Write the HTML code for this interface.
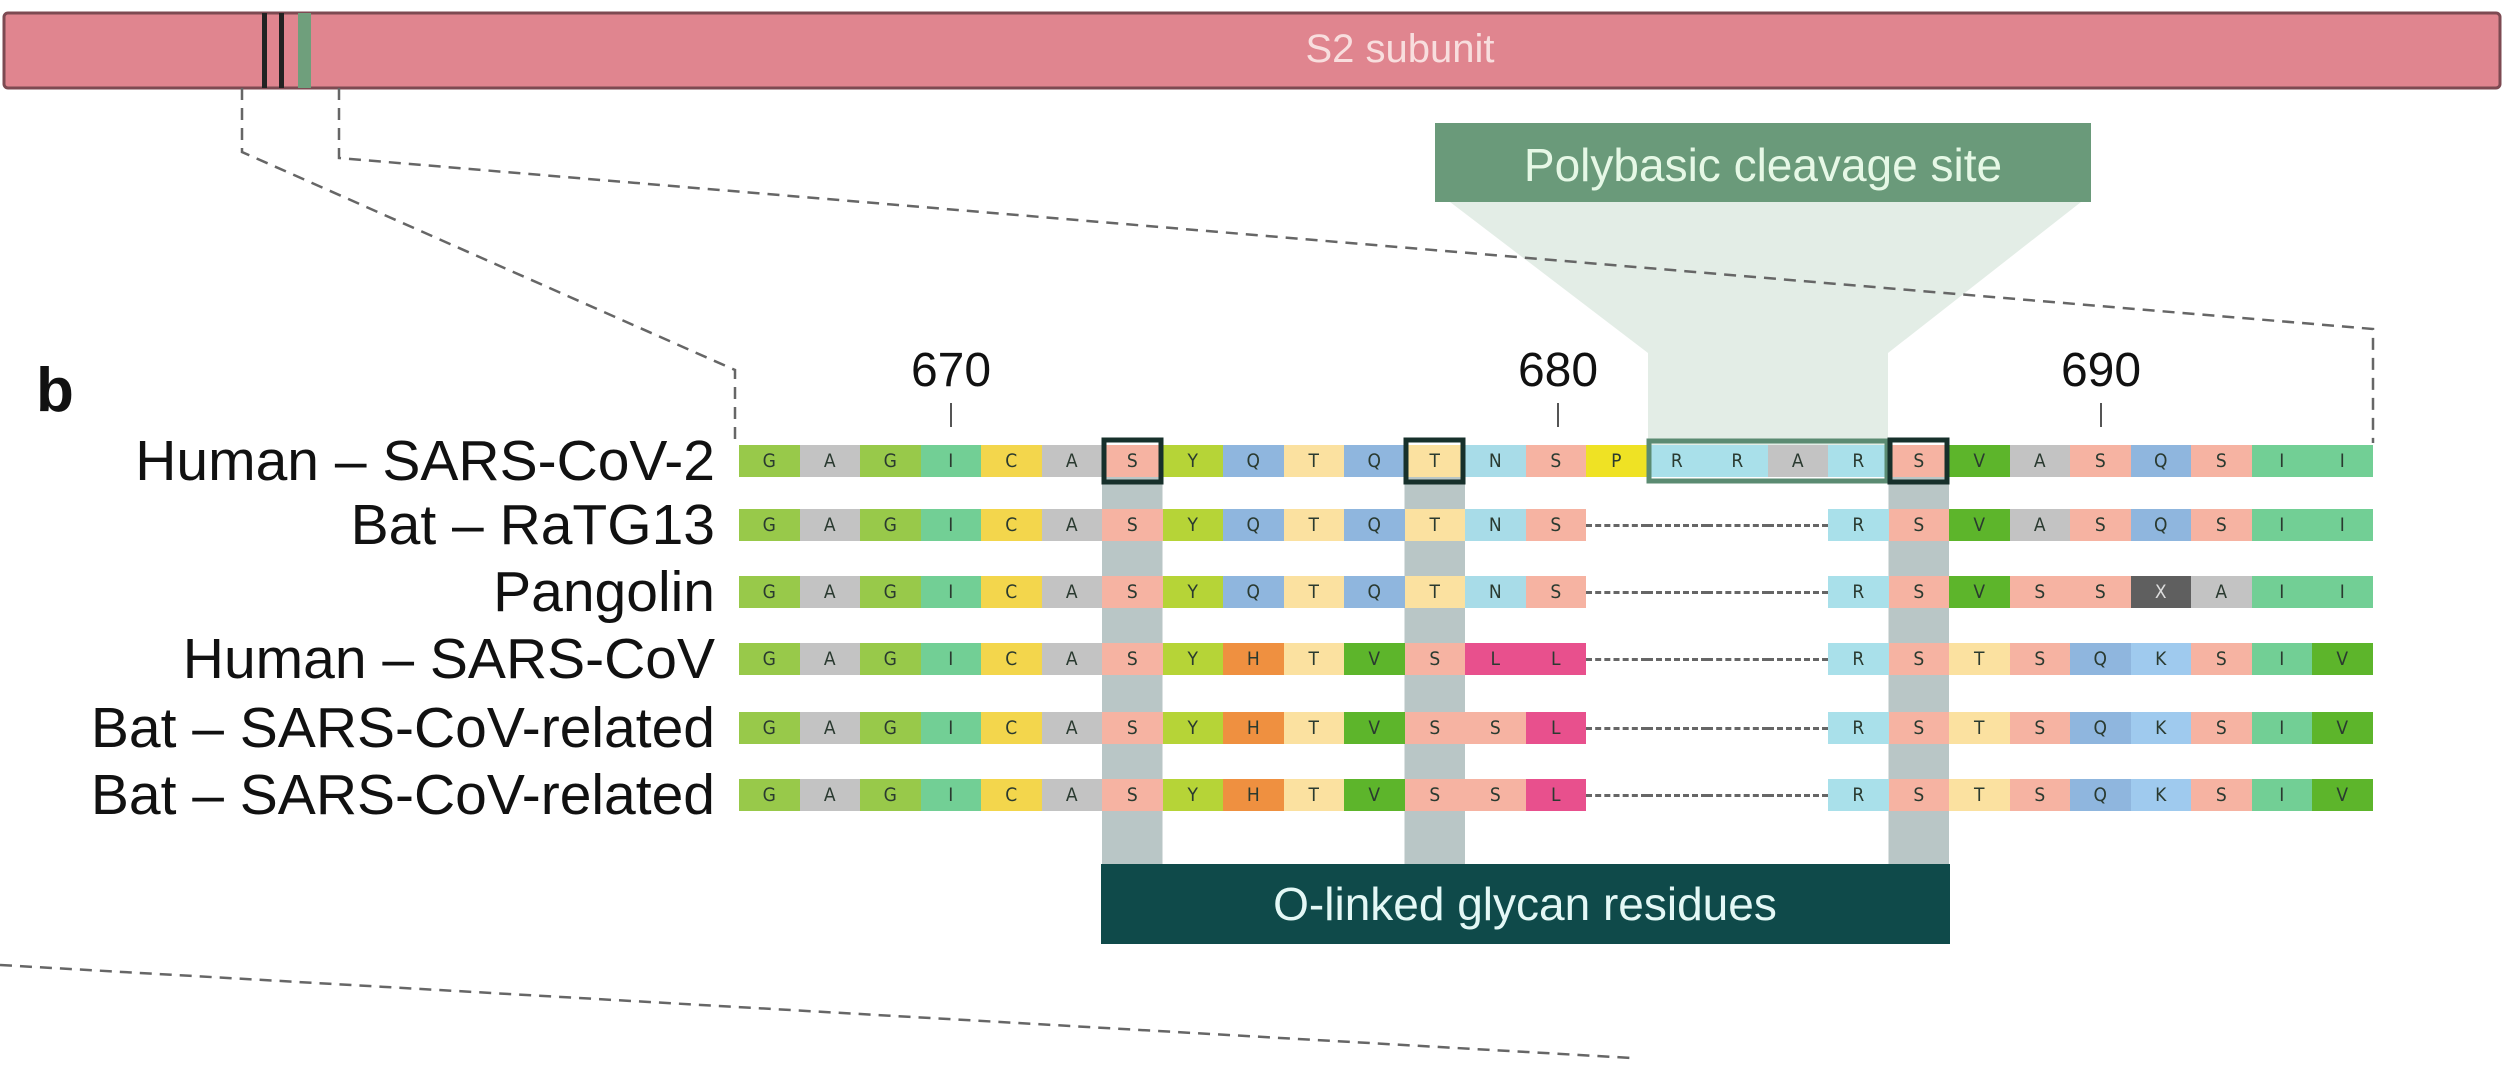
<!DOCTYPE html>
<html><head><meta charset="utf-8"><style>
body{margin:0;width:2508px;height:1065px;background:#fff;position:relative;overflow:hidden;font-family:"Liberation Sans",Arial,sans-serif}
.abs{position:absolute}
.row{position:absolute;left:739px;height:32px;display:flex;white-space:nowrap}
.row span{display:inline-block;width:60.5px;height:32px;line-height:33px;text-align:center;font-family:"DejaVu Sans Condensed","DejaVu Sans",sans-serif;font-size:19px;color:#2a3a30}
.G{background:#98c94a}.A{background:#c3c3c3}.I{background:#72cf95}.C{background:#f3d64c}.S{background:#f6b3a2}
.Y{background:#b6d437}.Q{background:#8fb6de}.T{background:#fbe1a0}.N{background:#a8dce8}.P{background:#efe224}
.R{background:#a9e0ea}.V{background:#5db52b}.H{background:#ef9040}.L{background:#e8508d}.K{background:#9fcaee}.X{background:#5f5f5f;color:#ddd!important}
.row span.gap{background:none;position:relative}
.row span.gap:after{content:"";position:absolute;left:0;right:0;top:15px;border-top:3px dashed #666}
.lab{position:absolute;right:1793px;font-size:57px;color:#111;line-height:60px;white-space:nowrap}
.num{position:absolute;font-size:48px;color:#111;transform:translateX(-50%)}
</style></head><body>
<svg class="abs" style="left:0;top:0" width="2508" height="1065">
 <rect x="4" y="13" width="2496" height="75" rx="4" fill="#e0858f" stroke="#7d4a52" stroke-width="3"/>
 <rect x="262" y="13" width="5" height="75" fill="#222"/>
 <rect x="279" y="13" width="5" height="75" fill="#222"/>
 <rect x="298" y="13" width="13" height="75" fill="#6f9f7c"/>
 <text x="1400" y="62" font-size="40" fill="#f8dede" text-anchor="middle" font-family="Liberation Sans, sans-serif">S2 subunit</text>
 <polygon points="1450,202 2081,202 1888,353 1888,445 1648,445 1648,353" fill="#e3ede6"/>
 <g fill="none" stroke="#666" stroke-width="2.5" stroke-dasharray="12,8">
  <polyline points="242,88 242,152 735,370 735,440"/>
  <polyline points="339,88 339,158 2373,329 2373,443"/>
  <line x1="0" y1="965" x2="1632" y2="1058"/>
 </g>
 <rect x="1435" y="123" width="656" height="79" fill="#6a9a7a"/>
 <text x="1763" y="181" font-size="46" fill="#e6f8e6" text-anchor="middle" font-family="Liberation Sans, sans-serif">Polybasic cleavage site</text>
 <g fill="#b9c6c6">
  <rect x="1102" y="470" width="60.5" height="400"/>
  <rect x="1404.5" y="470" width="60.5" height="400"/>
  <rect x="1888.5" y="470" width="60.5" height="400"/>
 </g>
 <rect x="1101" y="864" width="849" height="80" fill="#0f4a4a"/>
 <text x="1525" y="920" font-size="46" fill="#e4f8f6" text-anchor="middle" font-family="Liberation Sans, sans-serif">O-linked glycan residues</text>
 <g stroke="#555" stroke-width="2">
  <line x1="951" y1="403" x2="951" y2="427"/>
  <line x1="1558" y1="403" x2="1558" y2="427"/>
  <line x1="2101" y1="403" x2="2101" y2="427"/>
 </g>
</svg>
<div class="abs" style="left:36px;top:355px;font-size:62px;font-weight:bold;color:#111">b</div>
<div class="num" style="left:951px;top:343px">670</div>
<div class="num" style="left:1558px;top:343px">680</div>
<div class="num" style="left:2101px;top:343px">690</div>
<div class="lab" style="top:431px">Human – SARS-CoV-2</div>
<div class="lab" style="top:495px">Bat – RaTG13</div>
<div class="lab" style="top:562px">Pangolin</div>
<div class="lab" style="top:629px">Human – SARS-CoV</div>
<div class="lab" style="top:698px">Bat – SARS-CoV-related</div>
<div class="lab" style="top:765px">Bat – SARS-CoV-related</div>

<div class="row" style="top:445px"><span class="G">G</span><span class="A">A</span><span class="G">G</span><span class="I">I</span><span class="C">C</span><span class="A">A</span><span class="S">S</span><span class="Y">Y</span><span class="Q">Q</span><span class="T">T</span><span class="Q">Q</span><span class="T">T</span><span class="N">N</span><span class="S">S</span><span class="P">P</span><span class="R">R</span><span class="R">R</span><span class="A">A</span><span class="R">R</span><span class="S">S</span><span class="V">V</span><span class="A">A</span><span class="S">S</span><span class="Q">Q</span><span class="S">S</span><span class="I">I</span><span class="I">I</span></div>
<div class="row" style="top:509px"><span class="G">G</span><span class="A">A</span><span class="G">G</span><span class="I">I</span><span class="C">C</span><span class="A">A</span><span class="S">S</span><span class="Y">Y</span><span class="Q">Q</span><span class="T">T</span><span class="Q">Q</span><span class="T">T</span><span class="N">N</span><span class="S">S</span><span class="gap"></span><span class="gap"></span><span class="gap"></span><span class="gap"></span><span class="R">R</span><span class="S">S</span><span class="V">V</span><span class="A">A</span><span class="S">S</span><span class="Q">Q</span><span class="S">S</span><span class="I">I</span><span class="I">I</span></div>
<div class="row" style="top:576px"><span class="G">G</span><span class="A">A</span><span class="G">G</span><span class="I">I</span><span class="C">C</span><span class="A">A</span><span class="S">S</span><span class="Y">Y</span><span class="Q">Q</span><span class="T">T</span><span class="Q">Q</span><span class="T">T</span><span class="N">N</span><span class="S">S</span><span class="gap"></span><span class="gap"></span><span class="gap"></span><span class="gap"></span><span class="R">R</span><span class="S">S</span><span class="V">V</span><span class="S">S</span><span class="S">S</span><span class="X">X</span><span class="A">A</span><span class="I">I</span><span class="I">I</span></div>
<div class="row" style="top:643px"><span class="G">G</span><span class="A">A</span><span class="G">G</span><span class="I">I</span><span class="C">C</span><span class="A">A</span><span class="S">S</span><span class="Y">Y</span><span class="H">H</span><span class="T">T</span><span class="V">V</span><span class="S">S</span><span class="L">L</span><span class="L">L</span><span class="gap"></span><span class="gap"></span><span class="gap"></span><span class="gap"></span><span class="R">R</span><span class="S">S</span><span class="T">T</span><span class="S">S</span><span class="Q">Q</span><span class="K">K</span><span class="S">S</span><span class="I">I</span><span class="V">V</span></div>
<div class="row" style="top:712px"><span class="G">G</span><span class="A">A</span><span class="G">G</span><span class="I">I</span><span class="C">C</span><span class="A">A</span><span class="S">S</span><span class="Y">Y</span><span class="H">H</span><span class="T">T</span><span class="V">V</span><span class="S">S</span><span class="S">S</span><span class="L">L</span><span class="gap"></span><span class="gap"></span><span class="gap"></span><span class="gap"></span><span class="R">R</span><span class="S">S</span><span class="T">T</span><span class="S">S</span><span class="Q">Q</span><span class="K">K</span><span class="S">S</span><span class="I">I</span><span class="V">V</span></div>
<div class="row" style="top:779px"><span class="G">G</span><span class="A">A</span><span class="G">G</span><span class="I">I</span><span class="C">C</span><span class="A">A</span><span class="S">S</span><span class="Y">Y</span><span class="H">H</span><span class="T">T</span><span class="V">V</span><span class="S">S</span><span class="S">S</span><span class="L">L</span><span class="gap"></span><span class="gap"></span><span class="gap"></span><span class="gap"></span><span class="R">R</span><span class="S">S</span><span class="T">T</span><span class="S">S</span><span class="Q">Q</span><span class="K">K</span><span class="S">S</span><span class="I">I</span><span class="V">V</span></div>

<svg class="abs" style="left:0;top:0;pointer-events:none" width="2508" height="1065">
 <rect x="1649" y="441" width="238" height="40" fill="none" stroke="#5b8b72" stroke-width="5"/>
 <g fill="none" stroke="#17302b" stroke-width="5">
  <rect x="1104" y="440" width="57" height="42"/>
  <rect x="1406" y="440" width="57" height="42"/>
  <rect x="1890" y="440" width="57" height="42"/>
 </g>
</svg>
</body></html>
